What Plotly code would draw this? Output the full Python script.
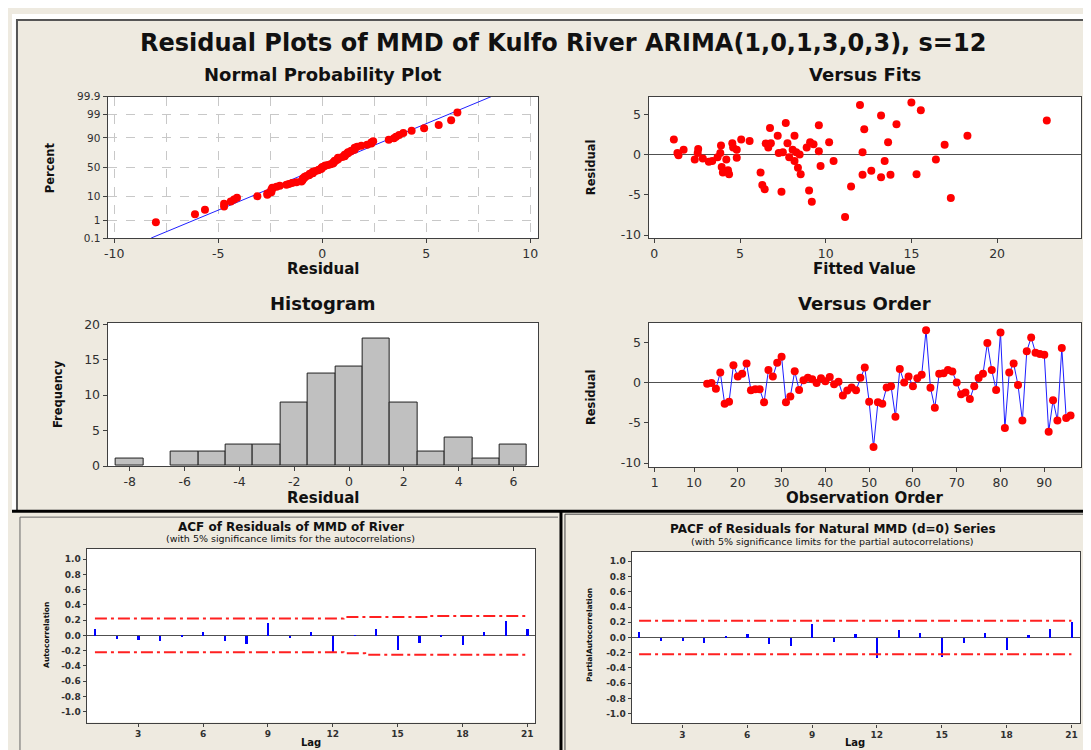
import plotly.graph_objects as go
from statistics import NormalDist
import numpy as np

W, H = 1091, 750

# ---------------- data ----------------
residuals = [-0.16, -0.05, -0.76, 1.24, -2.64, -2.4, 2.16, 0.76, 1.08, 2.36,
             -0.96, -0.84, -0.84, -2.45, 1.56, 0.76, 2.45, 3.2, -2.45, -1.72,
             1.4, -0.92, 0.28, 0.6, 0.4, -0.05, 0.52, 0.15, 0.7, -0.2,
             0.1, -1.6, -1.0, -0.6, -0.95, 0.6, 1.88, -2.4, -8.0, -2.45,
             -2.64, -0.6, -0.45, -4.24, 1.68, 0.0, 0.76, -0.45, 0.52, 0.96,
             6.5, -0.64, -3.12, 1.08, 1.16, 1.56, 1.36, 0.0, -1.45, -1.24,
             -2.04, -0.45, 0.55, 1.08, 4.9, 1.55, -0.92, 6.2, -5.64, 1.24,
             2.36, -0.32, -4.72, 3.9, 5.6, 3.7, 3.55, 3.45, -6.12, -2.2,
             -4.72, 4.3, -4.4, -4.1]
obs_order = list(range(13, 13 + len(residuals)))

fitted_values = [1.14, 1.35, 1.41, 1.71, 2.36, 2.56, 2.53, 2.83, 3.18, 3.38,
                 3.69, 3.85, 3.89, 3.93, 4.0, 4.2, 4.3, 4.36, 4.55, 4.6,
                 4.81, 4.81, 5.07, 5.56, 6.2, 6.3, 6.44, 6.5, 6.65, 6.75,
                 6.8, 7.2, 7.26, 7.42, 7.5, 7.67, 7.77, 7.87, 8.07, 8.18,
                 8.18, 8.28, 8.38, 8.48, 8.54, 8.89, 9.03, 9.09, 9.19, 9.29,
                 9.6, 9.6, 9.7, 10.2, 10.46, 11.13, 11.48, 12.0, 12.15, 12.15,
                 12.25, 12.66, 13.23, 13.23, 13.44, 13.64, 13.78, 14.13, 15.0, 15.3,
                 15.55, 16.43, 16.94, 17.3, 18.27, 22.9]
fit_residuals = [1.91, 0.24, -0.04, 0.65, -0.57, 0.73, 0.24, -0.45, -0.85, -0.77,
                 -0.28, 0.24, 1.18, -1.5, -2.2, -0.57, -1.9, -2.4, 1.46, 0.93,
                 -0.37, 0.65, 1.91, 1.75, -2.2, -3.74, -4.27, 1.42, 0.93, 3.37,
                 1.46, 2.4, 0.24, -4.6, 0.33, 3.98, 1.46, -0.28, 0.65, 2.4,
                 -0.77, 0.33, -1.59, 0.04, -2.4, 0.93, -4.43, 1.59, -5.85, 1.34,
                 3.7, 0.45, -1.38, 1.59, -0.77, -7.76, -3.94, 6.22, 0.33, -2.48,
                 3.21, -1.99, 4.92, -2.8, -0.77, 1.59, -2.48, 3.82, 6.55, -2.4,
                 5.57, -0.57, 1.26, -5.37, 2.4, 4.3]

hist_centers = [-8, -7, -6, -5, -4, -3, -2, -1, 0, 1, 2, 3, 4, 5, 6]
hist_counts = [1, 0, 2, 2, 3, 3, 9, 13, 14, 18, 9, 2, 4, 1, 3]

lags = list(range(1, 22))
acf_values = [0.085, -0.04, -0.055, -0.07, -0.005, 0.055, -0.07, -0.105, 0.165, -0.03,
              0.055, -0.22, 0.003, 0.085, -0.185, -0.09, -0.01, -0.12, 0.055, 0.19, 0.085]
acf_upper = [0.22] * 12 + [0.24] * 4 + [0.255] * 5
acf_lower = [-0.22] * 12 + [-0.235] + [-0.255] * 8
pacf_values = [0.08, -0.045, -0.045, -0.06, 0.02, 0.05, -0.075, -0.11, 0.18, -0.055,
               0.05, -0.26, 0.1, 0.07, -0.25, -0.06, 0.07, -0.155, 0.04, 0.115, 0.215]
pacf_upper = [0.22] * 21
pacf_lower = [-0.22] * 21

prob_ticks = [0.1, 1, 10, 50, 90, 99, 99.9]
norm_x_ticks = [-10, -5, 0, 5, 10]
fits_x_ticks = [0, 5, 10, 15, 20]
resid_y_ticks = [-10, -5, 0, 5]
hist_x_ticks = [-8, -6, -4, -2, 0, 2, 4, 6]
hist_y_ticks = [0, 5, 10, 15, 20]
order_x_ticks = [1, 10, 20, 30, 40, 50, 60, 70, 80, 90]
lag_ticks = [3, 6, 9, 12, 15, 18, 21]
corr_ticks = [round(-1 + 0.2 * i, 1) for i in range(11)]

# ---------------- helpers ----------------
FONT = "DejaVu Sans"
BEIGE = "#EEEAE0"
FRAME = "#404040"
nd = NormalDist()


def dx(a, b):
    return [a / W, b / W]


def dy(top, bottom):
    return [1 - bottom / H, 1 - top / H]


def px(x):
    return x / W


def py(y):
    return 1 - y / H


def lab(v, fmt="{:g}"):
    return fmt.format(v).replace("\u2212", "-")


def axis_style(**kw):
    d = dict(showline=True, mirror=True, linecolor=FRAME, linewidth=1.2,
             ticks="outside", ticklen=4, tickcolor=FRAME, tickwidth=1,
             showgrid=False, zeroline=False,
             tickfont=dict(family=FONT, size=12.5, color="#303030"))
    d.update(kw)
    return d


fig = go.Figure()

# ---- Normal probability plot ----
n = len(residuals)
res_sorted = sorted(residuals)
z_pts = [nd.inv_cdf((i + 1 - 0.3) / (n + 0.4)) for i in range(n)]
mu = float(np.mean(residuals))
sd = float(np.std(residuals, ddof=1))
z_lo, z_hi = nd.inv_cdf(prob_ticks[0] / 100), nd.inv_cdf(prob_ticks[-1] / 100)
fig.add_trace(go.Scatter(x=[mu + sd * z_lo, mu + sd * z_hi], y=[z_lo, z_hi], mode="lines",
                         line=dict(color="#2020FF", width=1), xaxis="x", yaxis="y",
                         showlegend=False, hoverinfo="skip"))
fig.add_trace(go.Scatter(x=res_sorted, y=z_pts, mode="markers",
                         marker=dict(color="#FF0000", size=8), xaxis="x", yaxis="y",
                         showlegend=False))

# ---- Versus fits ----
fig.add_trace(go.Scatter(x=fitted_values, y=fit_residuals, mode="markers",
                         marker=dict(color="#FF0000", size=8), xaxis="x2", yaxis="y2",
                         showlegend=False))

# ---- Histogram ----
fig.add_trace(go.Bar(x=hist_centers, y=hist_counts, width=1,
                     marker=dict(color="#C0C0C0",
                                 line=dict(color="#202020",
                                           width=[1 if c > 0 else 0 for c in hist_counts])),
                     xaxis="x3", yaxis="y3", showlegend=False))

# ---- Versus order ----
fig.add_trace(go.Scatter(x=obs_order, y=residuals, mode="lines+markers",
                         line=dict(color="#1E1EFF", width=1),
                         marker=dict(color="#FF0000", size=8), xaxis="x4", yaxis="y4",
                         showlegend=False))

# ---- ACF ----
fig.add_trace(go.Bar(x=lags, y=acf_values, width=0.1, marker=dict(color="#0000FF", line=dict(width=0)),
                     xaxis="x5", yaxis="y5", showlegend=False))
for lim in (acf_upper, acf_lower):
    fig.add_trace(go.Scatter(x=lags, y=lim, mode="lines", line_shape="hvh",
                             line=dict(color="#FF2020", width=2, dash="12px,4px,3px,4px"),
                             xaxis="x5", yaxis="y5", showlegend=False, hoverinfo="skip"))

# ---- PACF ----
fig.add_trace(go.Bar(x=lags, y=pacf_values, width=0.1, marker=dict(color="#0000FF", line=dict(width=0)),
                     xaxis="x6", yaxis="y6", showlegend=False))
for lim in (pacf_upper, pacf_lower):
    fig.add_trace(go.Scatter(x=lags, y=lim, mode="lines",
                             line=dict(color="#FF2020", width=2, dash="12px,4px,3px,4px"),
                             xaxis="x6", yaxis="y6", showlegend=False, hoverinfo="skip"))

# ---------------- axes ----------------
grid_kw = dict(showgrid=True, gridcolor="#C8C8C8", griddash="dash", gridwidth=1)
small_tick = dict(family=FONT, size=9, color="#303030", weight="bold")
zero_kw = dict(zeroline=True, zerolinecolor="#505050", zerolinewidth=1.3)

layout = dict(
    width=W, height=H, autosize=False,
    margin=dict(l=0, r=0, t=0, b=0),
    paper_bgcolor=BEIGE, plot_bgcolor="white",
    bargap=0, showlegend=False,
    xaxis=axis_style(domain=dx(96, 528), anchor="y", range=[-10.32, 10.38],
                     tickvals=norm_x_ticks, ticktext=[lab(v) for v in norm_x_ticks], **grid_kw,
                     minor=dict(dtick=2.5, tick0=0, showgrid=True, gridcolor="#C8C8C8",
                                griddash="dash", ticks="")),
    yaxis=axis_style(domain=dy(84, 228), anchor="x", range=[z_lo, z_hi],
                     tickvals=[nd.inv_cdf(p / 100) for p in prob_ticks],
                     ticktext=[lab(p) for p in prob_ticks], **grid_kw,
                     tickfont=dict(family=FONT, size=10.5, color="#303030")),
    xaxis2=axis_style(domain=dx(639, 1073), anchor="y2", range=[-0.33, 24.9],
                      tickvals=fits_x_ticks, ticktext=[lab(v) for v in fits_x_ticks]),
    yaxis2=axis_style(domain=dy(84, 228), anchor="x2", range=[-10.37, 7.28],
                      tickvals=resid_y_ticks, ticktext=[lab(v) for v in resid_y_ticks], **zero_kw),
    xaxis3=axis_style(domain=dx(96, 528), anchor="y3", range=[-8.81, 6.9],
                      tickvals=hist_x_ticks, ticktext=[lab(v) for v in hist_x_ticks]),
    yaxis3=axis_style(domain=dy(314, 460), anchor="x3", range=[0, 20.23],
                      tickvals=hist_y_ticks, ticktext=[lab(v) for v in hist_y_ticks]),
    xaxis4=axis_style(domain=dx(639, 1073), anchor="y4", range=[-0.36, 98.4],
                      tickvals=order_x_ticks, ticktext=[lab(v) for v in order_x_ticks]),
    yaxis4=axis_style(domain=dy(314, 461), anchor="x4", range=[-10.49, 7.45],
                      tickvals=resid_y_ticks, ticktext=[lab(v) for v in resid_y_ticks], **zero_kw),
    xaxis5=axis_style(domain=dx(75, 525), anchor="y5", range=[0.62, 21.36],
                      tickvals=lag_ticks, ticktext=[lab(v) for v in lag_ticks],
                      tickfont=small_tick, ticklen=3),
    yaxis5=axis_style(domain=dy(544, 721), anchor="x5", range=[-1.142, 1.138],
                      tickvals=corr_ticks, ticktext=[lab(v, "{:.1f}") for v in corr_ticks],
                      tickfont=small_tick, ticklen=3, **zero_kw),
    xaxis6=axis_style(domain=dx(622, 1072), anchor="y6", range=[0.66, 21.4],
                      tickvals=lag_ticks, ticktext=[lab(v) for v in lag_ticks],
                      tickfont=small_tick, ticklen=3),
    yaxis6=axis_style(domain=dy(547, 722), anchor="x6", range=[-1.129, 1.129],
                      tickvals=corr_ticks, ticktext=[lab(v, "{:.1f}") for v in corr_ticks],
                      tickfont=small_tick, ticklen=3, **zero_kw),
)
fig.update_layout(**layout)

# ---------------- text ----------------
def ann(text, x, y, size, bold=True, angle=0, color="#111111"):
    fig.add_annotation(text=f"<b>{text}</b>" if bold else text, x=px(x), y=py(y),
                       xref="paper", yref="paper", showarrow=False, textangle=angle,
                       xanchor="center", yanchor="middle",
                       font=dict(family=FONT, size=size, color=color))


ann("Residual Plots of MMD of Kulfo River ARIMA(1,0,1,3,0,3), s=12", 553, 30, 24)
ann("Normal Probability Plot", 312, 62, 18)
ann("Versus Fits", 856, 62, 18)
ann("Histogram", 312, 295, 18)
ann("Versus Order", 856, 295, 18)
ann("Residual", 312, 259, 15)
ann("Fitted Value", 856, 259, 15)
ann("Residual", 312, 493, 15)
ann("Observation Order", 856, 493, 15)
ann("Percent", 38, 156, 11.5, angle=-90)
ann("Residual", 581, 156, 11.5, angle=-90)
ann("Frequency", 46, 387, 11.5, angle=-90)
ann("Residual", 581, 390, 11.5, angle=-90)

ann("ACF of Residuals of MMD of River", 280, 522, 12)
ann("(with 5% significance limits for the autocorrelations)", 280, 534, 9.5, bold=False)
ann("Autocorrelation", 34, 632, 7.5, angle=-90)
ann("Lag", 300, 741, 10)
ann("PACF of Residuals for Natural MMD (d=0) Series", 824, 524, 12)
ann("(with 5% significance limits for the partial autocorrelations)", 824, 537, 9.5, bold=False)
ann("PartialAutocorrelation", 579, 632, 7.5, angle=-90)
ann("Lag", 846, 741, 10)

# ---------------- panel frames ----------------
def rect(x0, y0, x1, y1, fill):
    fig.add_shape(type="rect", xref="paper", yref="paper",
                  x0=px(x0), x1=px(x1), y0=py(y1), y1=py(y0),
                  fillcolor=fill, line=dict(width=0), layer="below")


def line(x0, y0, x1, y1, color, lw):
    fig.add_shape(type="line", xref="paper", yref="paper",
                  x0=px(x0), x1=px(x1), y0=py(y0), y1=py(y1),
                  line=dict(color=color, width=lw))


rect(0, 0, W, 5, "white")
rect(0, 0, 4, 506, "white")
line(4, 6, W, 6, "#555555", 2)
line(5, 6, 5, 506, "#555555", 2)
line(0, 506, W, 506, "#000000", 3)
line(8, 512, 548, 512, "#666666", 1)
line(8, 512, 8, 750, "#666666", 1)
line(551, 506, 551, 750, "#000000", 3)
line(555, 509, W, 509, "#444444", 1)
line(555, 509, 555, 750, "#444444", 1)

fig.write_html("out.html")
